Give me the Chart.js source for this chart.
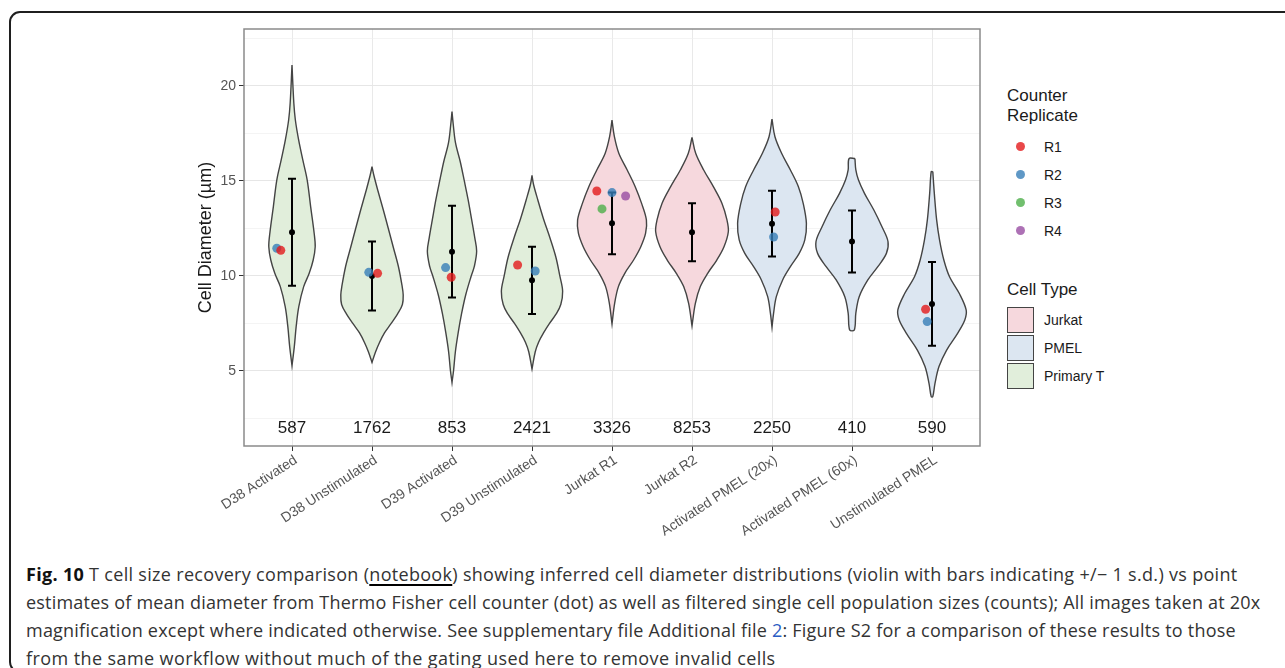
<!DOCTYPE html>
<html>
<head>
<meta charset="utf-8">
<script src="https://cdn.jsdelivr.net/npm/chart.js@4.4.1/dist/chart.umd.min.js"></script>
<style>
  html, body { margin: 0; padding: 0; background: #fff; }
  body { width: 1285px; height: 668px; position: relative; overflow: hidden; font-family: "Liberation Sans", Arial, sans-serif; }
  #frame { position: absolute; left: 9px; top: 11px; width: 1400px; height: 662px; border: 2px solid #1f1f1f; border-radius: 11px; box-sizing: border-box; }
  #plot { position: absolute; left: 160px; top: 0; }
  .lg { position: absolute; color: #1a1a1a; white-space: nowrap; }
  .lg-title { font-size: 17px; line-height: 20px; }
  .lg-item { font-size: 14px; line-height: 16px; }
  .dot { position: absolute; width: 9px; height: 9px; border-radius: 50%; }
  .box { position: absolute; width: 27px; height: 26px; border: 1.5px solid #444; box-sizing: border-box; }
  #caption { position: absolute; left: 26px; top: 560px; font-family: "Open Sans", sans-serif; font-size: 18px; line-height: 28px; color: #333; white-space: nowrap; }
  #caption b { color: #111; }
  #caption u { text-decoration-thickness: 2px; text-underline-offset: 3px; text-decoration-color: #000; }
</style>
</head>
<body>
<div id="frame"></div>
<canvas id="plot" width="840" height="545"></canvas>

<div class="lg lg-title" style="left:1007px;top:86px">Counter<br>Replicate</div>
<div class="dot" style="left:1016px;top:142px;background:rgba(228,26,28,0.8)"></div>
<div class="lg lg-item" style="left:1044px;top:139px">R1</div>
<div class="dot" style="left:1016px;top:170px;background:rgba(55,126,184,0.8)"></div>
<div class="lg lg-item" style="left:1044px;top:167px">R2</div>
<div class="dot" style="left:1016px;top:198px;background:rgba(77,175,74,0.8)"></div>
<div class="lg lg-item" style="left:1044px;top:195px">R3</div>
<div class="dot" style="left:1016px;top:226px;background:rgba(152,78,163,0.8)"></div>
<div class="lg lg-item" style="left:1044px;top:223px">R4</div>

<div class="lg lg-title" style="left:1007px;top:280px">Cell Type</div>
<div class="box" style="left:1007px;top:307px;background:#f6d8dd"></div>
<div class="lg lg-item" style="left:1044px;top:312px">Jurkat</div>
<div class="box" style="left:1007px;top:335px;background:#dce6f1"></div>
<div class="lg lg-item" style="left:1044px;top:340px">PMEL</div>
<div class="box" style="left:1007px;top:363px;background:#e1eedb"></div>
<div class="lg lg-item" style="left:1044px;top:368px">Primary T</div>

<div id="caption"><span style="letter-spacing:0.31px"><b>Fig. 10</b> T cell size recovery comparison (<u>notebook</u>) showing inferred cell diameter distributions (violin with bars indicating +/− 1 s.d.) vs point</span><br><span style="letter-spacing:0.21px">estimates of mean diameter from Thermo Fisher cell counter (dot) as well as filtered single cell population sizes (counts); All images taken at 20x</span><br><span style="letter-spacing:0.22px">magnification except where indicated otherwise. See supplementary file Additional file <span style="color:#2a5cc4">2</span>: Figure S2 for a comparison of these results to those</span><br><span style="letter-spacing:0.41px">from the same workflow without much of the gating used here to remove invalid cells</span></div>

<script>
// samples, one per violin
const categories = ['D38 Activated', 'D38 Unstimulated', 'D39 Activated', 'D39 Unstimulated',
  'Jurkat R1', 'Jurkat R2', 'Activated PMEL (20x)', 'Activated PMEL (60x)', 'Unstimulated PMEL'];
const cellTypes = ['Primary T', 'Primary T', 'Primary T', 'Primary T', 'Jurkat', 'Jurkat', 'PMEL', 'PMEL', 'PMEL'];
const counts = [587, 1762, 853, 2421, 3326, 8253, 2250, 410, 590];
const countLabelY = 2;

// mean +/- 1 s.d.
const meanDiameter = [12.3, 10.0, 11.28, 9.77, 12.77, 12.3, 12.75, 11.81, 8.53];
const sdDiameter = [2.82, 1.82, 2.41, 1.77, 1.63, 1.53, 1.73, 1.63, 2.2];

// violin outlines: [diameter, half width in category units], top to bottom
const densityD38Act = [[21.1, 0], [19.09, 0.023], [18.21, 0.042], [17.16, 0.083], [16.11, 0.135], [15.05, 0.19],
  [13.65, 0.233], [12.25, 0.277], [11.54, 0.29], [10.84, 0.265], [10.14, 0.215], [9.44, 0.146], [8.39, 0.085],
  [7.33, 0.052], [6.28, 0.029], [5.28, 0]];
const densityD38Unstim = [[15.75, 0], [15.3, 0.023], [14.5, 0.073], [13.5, 0.14], [12.5, 0.204], [11.5, 0.267],
  [10.5, 0.33], [9.5, 0.375], [9.0, 0.39], [8.5, 0.38], [8.0, 0.32], [7.5, 0.24], [7.0, 0.156], [6.5, 0.094],
  [6.0, 0.044], [5.45, 0]];
const densityD39Act = [[18.65, 0], [18.0, 0.015], [17.0, 0.044], [16.0, 0.104], [15.0, 0.154], [14.0, 0.202],
  [13.0, 0.244], [12.0, 0.285], [11.3, 0.308], [10.5, 0.279], [10.0, 0.24], [9.0, 0.171], [8.0, 0.119],
  [7.0, 0.077], [6.0, 0.042], [5.0, 0.019], [4.4, 0]];
const densityD39Unstim = [[15.3, 0], [14.8, 0.02], [14.0, 0.073], [13.0, 0.144], [12.0, 0.225], [11.0, 0.298],
  [10.0, 0.348], [9.2, 0.383], [8.5, 0.36], [8.0, 0.302], [7.5, 0.219], [7.0, 0.144], [6.5, 0.081],
  [6.0, 0.04], [5.1, 0]];
const densityJurkatR1 = [[18.2, 0], [17.33, 0.03], [16.46, 0.085], [15.58, 0.19], [14.7, 0.29], [13.82, 0.37],
  [12.95, 0.43], [12.25, 0.42], [11.54, 0.36], [10.84, 0.27], [10.14, 0.16], [9.44, 0.08], [8.56, 0.033], [7.47, 0]];
const densityJurkatR2 = [[17.3, 0], [16.46, 0.046], [15.58, 0.146], [14.7, 0.267], [13.82, 0.375], [12.95, 0.437],
  [12.33, 0.454], [11.54, 0.4], [10.84, 0.31], [10.14, 0.196], [9.44, 0.104], [8.56, 0.042], [7.37, 0]];
const densityPmel20x = [[18.25, 0], [17.33, 0.037], [16.46, 0.12], [15.58, 0.23], [14.7, 0.33], [13.82, 0.39],
  [12.77, 0.43], [11.9, 0.41], [11.19, 0.34], [10.49, 0.23], [9.79, 0.133], [8.91, 0.054], [8.04, 0.02], [7.3, 0]];
const densityPmel60x = [[16.18, 0.037], [15.58, 0.048], [15.05, 0.081], [14.35, 0.156], [13.47, 0.273],
  [12.6, 0.373], [11.81, 0.45], [11.19, 0.43], [10.49, 0.323], [9.79, 0.198], [8.91, 0.09], [8.04, 0.048],
  [7.16, 0.029]];
const densityPmelUnstim = [[15.49, 0.01], [14.35, 0.029], [12.95, 0.058], [11.9, 0.094], [10.84, 0.148],
  [9.96, 0.219], [9.09, 0.34], [8.21, 0.427], [7.68, 0.41], [6.98, 0.32], [6.1, 0.183], [5.23, 0.0875],
  [4.35, 0.0375], [3.65, 0.01]];

// cell counter replicates (diameter, horizontal jitter)
const r1Diameter = [11.35, 10.14, 9.93, 10.58, 14.47, null, 13.37, null, 8.25];
const r1Jitter = [-0.14, 0.07, -0.01, -0.18, -0.19, 0, 0.04, 0, -0.08];
const r2Diameter = [11.46, 10.19, 10.44, 10.26, 14.39, null, 12.05, null, 7.6];
const r2Jitter = [-0.19, -0.04, -0.08, 0.04, 0, 0, 0.02, 0, -0.06];
const r3Diameter = [null, null, null, null, 13.53, null, null, null, null];
const r3Jitter = [0, 0, 0, 0, -0.125, 0, 0, 0, 0];
const r4Diameter = [null, null, null, null, 14.21, null, null, null, null];
const r4Jitter = [0, 0, 0, 0, 0.17, 0, 0, 0, 0];

const yGridValues = [2.5, 5, 7.5, 10, 12.5, 15, 17.5, 20, 22.5];
const yTickLabels = [5, 10, 15, 20];

const violinProfiles = [densityD38Act, densityD38Unstim, densityD39Act, densityD39Unstim,
  densityJurkatR1, densityJurkatR2, densityPmel20x, densityPmel60x, densityPmelUnstim];
const typeFill = { 'Jurkat': '#f6d8dd', 'PMEL': '#dce6f1', 'Primary T': '#e1eedb' };
const replicateColors = ['rgba(228,26,28,0.8)', 'rgba(55,126,184,0.8)', 'rgba(77,175,74,0.8)', 'rgba(152,78,163,0.8)'];
const capHalf = 0.05;

const violinSets = violinProfiles.map((prof, i) => {
  const right = prof.map(([y, w]) => ({ x: i + w, y }));
  const left = prof.slice().reverse().map(([y, w]) => ({ x: i - w, y }));
  return {
    data: right.concat(left, [right[0]]),
    showLine: true,
    fill: 'shape',
    backgroundColor: typeFill[cellTypes[i]],
    borderColor: '#444',
    borderWidth: 1.4,
    pointRadius: 0,
    tension: 0.35,
    order: 4,
  };
});

const errData = [];
meanDiameter.forEach((m, i) => {
  const lo = m - sdDiameter[i], hi = m + sdDiameter[i];
  errData.push({ x: i, y: lo }, { x: i, y: hi }, { x: i, y: null },
    { x: i - capHalf, y: hi }, { x: i + capHalf, y: hi }, { x: i, y: null },
    { x: i - capHalf, y: lo }, { x: i + capHalf, y: lo }, { x: i, y: null });
});

function replicateSet(diam, jitter, color, order) {
  const data = [];
  diam.forEach((d, i) => { if (d !== null) data.push({ x: i + jitter[i], y: d }); });
  return { data, backgroundColor: color, borderWidth: 0, pointRadius: 4.5, order };
}

const countLabels = {
  id: 'countLabels',
  afterDatasetsDraw(chart) {
    const { ctx, scales: { x, y } } = chart;
    ctx.save();
    ctx.font = '17px "Liberation Sans", Arial, sans-serif';
    ctx.fillStyle = '#1a1a1a';
    ctx.textAlign = 'center';
    ctx.textBaseline = 'middle';
    counts.forEach((c, i) => ctx.fillText(String(c), x.getPixelForValue(i), y.getPixelForValue(countLabelY)));
    ctx.restore();
  }
};

const panelBorder = {
  id: 'panelBorder',
  afterDraw(chart) {
    const { ctx, chartArea: a } = chart;
    ctx.save();
    ctx.strokeStyle = '#8a8a8a';
    ctx.lineWidth = 1.5;
    ctx.strokeRect(a.left, a.top, a.right - a.left, a.bottom - a.top);
    ctx.restore();
  }
};

const isMajor = v => yTickLabels.includes(v);

new Chart(document.getElementById('plot'), {
  type: 'scatter',
  data: {
    datasets: [
      ...violinSets,
      { data: errData, showLine: true, spanGaps: false, borderColor: '#000', borderWidth: 2, pointRadius: 0, tension: 0, order: 3 },
      { data: meanDiameter.map((m, i) => ({ x: i, y: m })), backgroundColor: '#000', borderWidth: 0, pointRadius: 3, order: 2 },
      replicateSet(r2Diameter, r2Jitter, replicateColors[1], 1),
      replicateSet(r3Diameter, r3Jitter, replicateColors[2], 1),
      replicateSet(r4Diameter, r4Jitter, replicateColors[3], 1),
      replicateSet(r1Diameter, r1Jitter, replicateColors[0], 0),
    ]
  },
  options: {
    responsive: false,
    animation: false,
    devicePixelRatio: 1,
    layout: { padding: { top: 29, right: 20, left: 0, bottom: 0 } },
    plugins: { legend: { display: false }, tooltip: { enabled: false } },
    scales: {
      x: {
        type: 'linear', min: -0.6, max: 8.6,
        afterBuildTicks: s => { s.ticks = categories.map((c, i) => ({ value: i })); },
        afterFit: s => { s.height = 99; },
        ticks: {
          callback: v => categories[v], autoSkip: false, minRotation: 33, maxRotation: 33,
          font: { size: 14, family: '"Liberation Sans", Arial, sans-serif' }, color: '#555', padding: 1, labelOffset: 4
        },
        grid: { color: '#e9e9e9', lineWidth: 1, tickColor: '#333', tickLength: 5 },
        border: { display: false }
      },
      y: {
        type: 'linear', min: 1.05, max: 23,
        afterBuildTicks: s => { s.ticks = yGridValues.map(v => ({ value: v })); },
        afterFit: s => { s.width = 84; },
        ticks: {
          callback: v => isMajor(v) ? String(v) : '',
          font: { size: 14, family: '"Liberation Sans", Arial, sans-serif' }, color: '#555', padding: 3
        },
        grid: {
          color: c => (c.tick && isMajor(c.tick.value)) ? '#e6e6e6' : '#efefef',
          lineWidth: c => (c.tick && isMajor(c.tick.value)) ? 1 : 0.7,
          tickColor: c => (c.tick && isMajor(c.tick.value)) ? '#333' : 'rgba(0,0,0,0)',
          tickLength: 5
        },
        border: { display: false },
        title: {
          display: true, text: 'Cell Diameter (µm)', color: '#1a1a1a',
          font: { size: 18, family: '"Liberation Sans", Arial, sans-serif' }, padding: { top: 35, bottom: 0 }
        }
      }
    }
  },
  plugins: [countLabels, panelBorder]
});
</script>
</body>
</html>
